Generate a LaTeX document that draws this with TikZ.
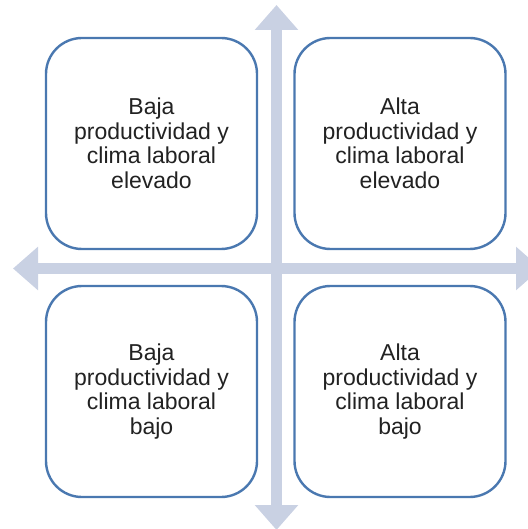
\documentclass[tikz,border=0pt]{standalone}
\usepackage{fontspec}
\setmainfont{Liberation Sans}
\usetikzlibrary{arrows.meta}
\definecolor{axisblue}{HTML}{C9D1E3}
\definecolor{boxblue}{HTML}{4A78B0}
\definecolor{txt}{HTML}{222222}
\begin{document}
\begin{tikzpicture}[x=1pt,y=-1pt,
  axis/.style={draw=axisblue,line width=11.5pt,
    {Triangle[width=42pt,length=25pt]}-{Triangle[width=42pt,length=25pt]}},
  quad/.style={draw=boxblue,line width=2.4pt,rounded corners=36pt,fill=white,
    minimum width=211pt,minimum height=211pt,inner sep=0pt,
    text=txt,align=center,font=\fontsize{23}{24.5}\selectfont}]
\useasboundingbox (0,0) rectangle (527,529);
\coordinate (vtop) at (276.5,5);
\coordinate (vbot) at (276.5,530);
\coordinate (hleft) at (13,268.5);
\coordinate (hright) at (541,268.5);
\draw[axis] (vtop) -- (vbot);
\draw[axis] (hleft) -- (hright);
\node[quad] (tl) at (151.5,143.5) {Baja\\productividad y\\clima laboral\\elevado};
\node[quad] (tr) at (400,143.5) {Alta\\productividad y\\clima laboral\\elevado};
\node[quad] (bl) at (151.5,391.5) {Baja\\productividad y\\clima laboral\\bajo};
\node[quad] (br) at (400,391.5) {Alta\\productividad y\\clima laboral\\bajo};
\end{tikzpicture}
\end{document}
